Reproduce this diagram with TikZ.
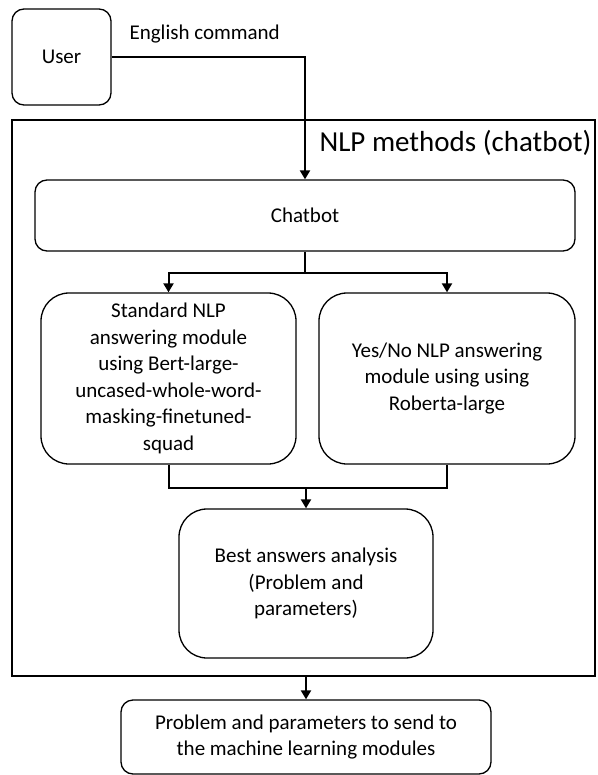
\documentclass[tikz,border=0pt]{standalone}
\usepackage{fontspec}
\setmainfont{Carlito}
\usepackage{tikz}
\usetikzlibrary{positioning,arrows.meta}

\begin{document}
\begin{tikzpicture}
                [x=1pt,y=-1pt,
                box/.style={draw,line width=1.3pt,rounded corners=12pt,align=center,inner sep=0pt,
                        font=\fontsize{21}{26.5}\selectfont},
                bigbox/.style={box,rounded corners=28pt},
                arr/.style={line width=2pt,-{Triangle[width=10pt,length=9pt]}},
                wire/.style={line width=2pt}]
                \useasboundingbox (0,0) rectangle (597,775);
                \node[draw,line width=1.5pt,minimum width=583pt,minimum height=556pt] (frame) at (303.5,398){};
                \node[anchor=base east,font=\fontsize{29}{34}\selectfont] (frametext) at (595,152){NLP methods (chatbot)};
                \node[box,minimum width=99pt,minimum height=96pt] (user) at (61.5,57){User};
                \node[anchor=base west,font=\fontsize{21}{26.5}\selectfont] (usertext) at (126,40){English command};
                \node[box,minimum width=540pt,minimum height=71pt] (chatbot) at (305,215.5){Chatbot};
                \node[bigbox,minimum width=255pt,minimum height=171pt] (std) at (168.5,378.5)
                        {Standard NLP\\answering module\\using Bert-large-\\uncased-whole-word-\\masking-finetuned-\\squad};
                \node[bigbox,minimum width=256pt,minimum height=171pt] (yesno) at (447,378.5)
                        {Yes/No NLP answering\\module using using\\Roberta-large};
                \node[bigbox,minimum width=254pt,minimum height=149pt] (best) at (306,583.5)
                        {Best answers analysis\\(Problem and\\parameters)};
                \node[box,minimum width=370pt,minimum height=74pt] (out) at (306,737)
                        {Problem and parameters to send to\\the machine learning modules};
                \coordinate (split) at (305,273);
                \coordinate (merge) at (306,488);
                \draw[arr] (user.east) -| (chatbot.north);
                \draw[wire] (chatbot.south) -- (split);
                \draw[arr] (split) -| (std.north);
                \draw[arr] (split) -| (yesno.north);
                \draw[wire] (std.south) -- (std.south |- merge) -- (yesno.south |- merge) -- (yesno.south);
                \draw[arr] (merge) -- (best.north);
                \draw[arr] (frame.south -| out.north) -- (out.north);
            \end{tikzpicture}
\end{document}
